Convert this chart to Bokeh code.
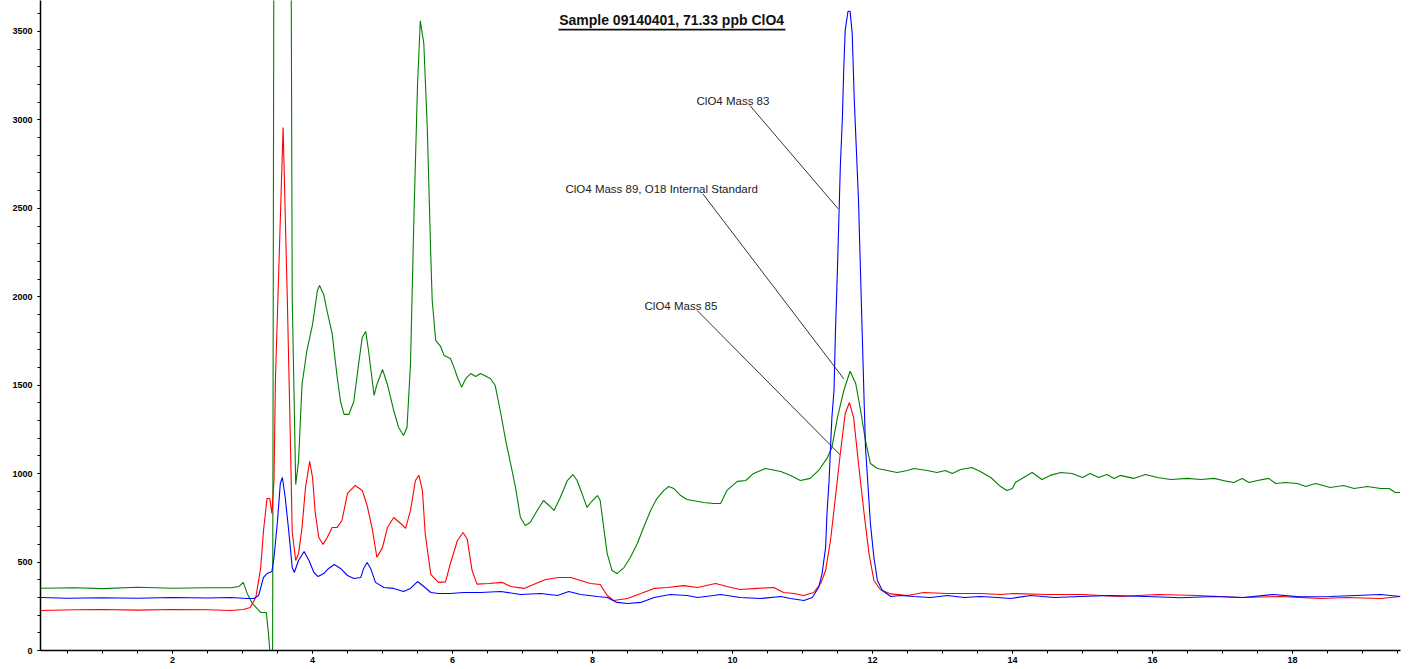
from bokeh.plotting import figure
from bokeh.models import ColumnDataSource, Label, BoxAnnotation, SingleIntervalTicker, Range1d
from bokeh.embed import file_html
from bokeh.resources import INLINE

# ---- data (retention time in min, intensity) ----
mass89_t = [0.12, 0.6, 1.0, 1.5, 2.0, 2.5, 2.83, 2.95, 3.01, 3.07, 3.14, 3.26, 3.34, 3.37, 3.39, 3.43,
            3.45, 3.69, 3.71, 3.76, 3.80, 3.85, 3.92, 4.00, 4.07, 4.10, 4.16, 4.21, 4.28, 4.35, 4.40,
            4.45, 4.52, 4.59, 4.66, 4.71, 4.76, 4.80, 4.88, 4.92, 5.00, 5.07, 5.16, 5.23, 5.30, 5.35,
            5.40, 5.45, 5.50, 5.54, 5.59, 5.64, 5.69, 5.71, 5.76, 5.83, 5.88, 5.97, 6.02, 6.07, 6.13,
            6.19, 6.26, 6.33, 6.40, 6.54, 6.61, 6.69, 6.76, 6.83, 6.90, 6.97, 7.04, 7.11, 7.21, 7.30,
            7.38, 7.45, 7.54, 7.64, 7.72, 7.78, 7.85, 7.92, 8.00, 8.07, 8.11, 8.16, 8.21, 8.28, 8.35,
            8.45, 8.54, 8.64, 8.73, 8.83, 8.92, 9.02, 9.09, 9.16, 9.26, 9.35, 9.59, 9.73, 9.83, 9.92,
            10.07, 10.19, 10.30, 10.47, 10.69, 10.83, 10.97, 11.11, 11.23, 11.35, 11.42, 11.50, 11.59,
            11.68, 11.76, 11.83, 11.90, 11.97, 12.07, 12.21, 12.35, 12.50, 12.59, 12.78, 12.92, 13.04,
            13.14, 13.26, 13.42, 13.54, 13.69, 13.83, 13.92, 14.00, 14.04, 14.16, 14.28, 14.42, 14.54,
            14.69, 14.85, 15.00, 15.11, 15.23, 15.35, 15.45, 15.54, 15.73, 15.90, 16.07, 16.26, 16.50,
            16.69, 16.88, 17.07, 17.16, 17.28, 17.38, 17.50, 17.66, 17.76, 17.90, 18.07, 18.19, 18.33,
            18.54, 18.73, 18.88, 19.07, 19.26, 19.38, 19.47, 19.54]
mass89_v = [352, 355, 350, 358, 352, 355, 355, 362, 385, 320, 266, 215, 215, 100, 0, 0,
            4500, 4500, 2000, 938, 1069, 1504, 1696, 1843, 2035, 2064, 2013, 1916, 1793, 1554, 1408,
            1335, 1335, 1408, 1623, 1770, 1804, 1696, 1442, 1504, 1589, 1504, 1357, 1261, 1216, 1261,
            1623, 2471, 3194, 3560, 3432, 2951, 2228, 1979, 1753, 1719, 1668, 1651, 1602, 1545, 1489,
            1538, 1566, 1549, 1566, 1538, 1498, 1340, 1187, 1057, 922, 752, 707, 724, 792, 848,
            820, 792, 865, 961, 995, 961, 888, 809, 848, 876, 848, 695, 548, 452, 435,
            469, 526, 605, 695, 792, 859, 905, 927, 916, 876, 854, 837, 831, 831, 905,
            956, 961, 1001, 1029, 1012, 990, 961, 973, 1018, 1086, 1148, 1318, 1470,
            1579, 1510, 1357, 1187, 1057, 1029, 1018, 1006, 1018, 1029, 1018, 1006, 1018,
            1001, 1023, 1035, 1012, 978, 927, 905, 916, 950, 978, 1006, 967, 990,
            1006, 1001, 978, 1001, 978, 995, 973, 990, 973, 995, 978, 967, 973,
            967, 973, 956, 950, 973, 950, 961, 973, 944, 950, 944, 927, 944,
            922, 933, 916, 927, 916, 916, 893, 893]

mass83_t = [0.12, 0.5, 1.0, 1.5, 2.0, 2.5, 2.83, 3.07, 3.16, 3.23, 3.30, 3.35, 3.42, 3.45, 3.50, 3.54,
            3.57, 3.61, 3.66, 3.71, 3.74, 3.80, 3.88, 3.95, 4.02, 4.08, 4.16, 4.23, 4.31, 4.40, 4.50,
            4.59, 4.69, 4.73, 4.78, 4.83, 4.90, 5.02, 5.16, 5.30, 5.40, 5.50, 5.59, 5.69, 5.80, 5.97,
            6.16, 6.40, 6.69, 6.97, 7.26, 7.50, 7.66, 7.83, 8.07, 8.21, 8.35, 8.50, 8.69, 8.88, 9.11,
            9.35, 9.50, 9.73, 9.83, 10.11, 10.40, 10.69, 10.83, 11.02, 11.14, 11.23, 11.28, 11.33,
            11.35, 11.38, 11.40, 11.42, 11.45, 11.47, 11.50, 11.52, 11.54, 11.57, 11.59, 11.61, 11.65,
            11.68, 11.71, 11.74, 11.77, 11.80, 11.82, 11.84, 11.86, 11.88, 11.90, 11.94, 11.97, 12.02,
            12.07, 12.14, 12.26, 12.40, 12.59, 12.83, 13.07, 13.31, 13.54, 13.78, 13.97, 14.26, 14.60,
            14.97, 15.40, 15.92, 16.40, 16.88, 17.30, 17.73, 18.10, 18.54, 18.90, 19.26, 19.54]
mass83_v = [300, 295, 298, 295, 300, 297, 300, 294, 294, 311, 413, 435, 447, 526, 735, 944,
            978, 865, 678, 469, 441, 509, 560, 509, 441, 418, 435, 464, 486, 464, 424,
            407, 413, 464, 498, 464, 385, 356, 351, 334, 351, 390, 362, 328, 322, 322,
            328, 328, 334, 317, 322, 311, 334, 317, 305, 300, 272, 266, 272, 300, 317,
            311, 300, 311, 317, 300, 294, 305, 294, 283, 300, 356, 435, 583,
            775, 961, 1148, 1318, 1470, 1792, 2165, 2448, 2731, 3014, 3297, 3506, 3614,
            3614, 3488, 3109, 2827, 2544, 2261, 1979, 1696, 1414, 1148, 905, 718, 526,
            396, 339, 305, 311, 305, 300, 311, 300, 305, 300, 294, 311, 300,
            305, 311, 305, 298, 305, 300, 317, 303, 305, 311, 317, 305]

mass85_t = [0.12, 0.6, 1.0, 1.5, 2.0, 2.5, 2.83, 3.01, 3.11, 3.19, 3.26, 3.30, 3.35, 3.39, 3.42, 3.45,
            3.47, 3.58, 3.64, 3.68, 3.71, 3.76, 3.80, 3.85, 3.90, 3.96, 4.00, 4.04, 4.09, 4.15, 4.21,
            4.28, 4.35, 4.42, 4.50, 4.61, 4.71, 4.78, 4.85, 4.92, 5.00, 5.07, 5.16, 5.26, 5.33, 5.40,
            5.47, 5.52, 5.57, 5.61, 5.69, 5.80, 5.90, 5.97, 6.07, 6.15, 6.21, 6.28, 6.35, 6.52, 6.71,
            6.83, 7.02, 7.19, 7.33, 7.52, 7.69, 7.83, 7.97, 8.11, 8.21, 8.30, 8.50, 8.69, 8.88, 9.07,
            9.30, 9.50, 9.69, 9.76, 9.92, 10.11, 10.35, 10.59, 10.73, 10.88, 11.02, 11.16, 11.26, 11.33,
            11.40, 11.47, 11.54, 11.61, 11.67, 11.73, 11.80, 11.88, 11.95, 12.02, 12.11, 12.26, 12.50,
            12.73, 13.07, 13.54, 13.83, 14.02, 14.50, 15.00, 15.54, 16.07, 16.64, 17.26, 17.83, 18.40,
            18.78, 19.26, 19.54]
mass85_v = [226, 230, 232, 228, 232, 230, 226, 232, 243, 300, 469, 678, 859, 859, 775, 961,
            1527, 2957, 1986, 1262, 670, 509, 548, 695, 922, 1069, 978, 775, 639, 599, 639,
            695, 695, 735, 888, 933, 905, 820, 695, 526, 583, 695, 752, 718, 690, 792,
            961, 990, 905, 660, 430, 385, 388, 492, 622, 667, 630, 452, 375, 379, 385,
            362, 351, 379, 401, 413, 413, 396, 379, 373, 311, 283, 294, 322, 351, 356,
            367, 356, 373, 379, 362, 345, 351, 356, 328, 322, 311, 328, 379, 452,
            622, 865, 1114, 1340, 1402, 1318, 1057, 775, 548, 396, 345, 320, 311,
            328, 322, 322, 317, 322, 317, 317, 305, 317, 311, 300, 305, 294,
            300, 294, 305]

# annotations: label text, label anchor (t, v), leader start, leader end
ann_text = ["ClO4 Mass 83", "ClO4 Mass 89, O18 Internal Standard", "ClO4 Mass 85"]
ann_t = [9.486, 7.614, 8.743]
ann_v = [3106, 2611, 1945]
lead_t0 = [10.247, 9.576, 9.496]
lead_v0 = [3082, 2582, 1922]
lead_t1 = [11.51, 11.59, 11.533]
lead_v1 = [2497, 1536, 1108]

title_text = "Sample 09140401, 71.33 ppb ClO4"

p = figure(width=1409, height=669, output_backend="svg", toolbar_location=None,
           x_range=Range1d(0.114, 19.543), y_range=Range1d(0, 3675),
           min_border_left=40, min_border_right=9, min_border_top=0, min_border_bottom=19)
p.outline_line_color = None
p.xgrid.visible = False
p.ygrid.visible = False
p.background_fill_color = "white"

p.line(mass89_t, mass89_v, line_color="#008000", line_width=1.1)
p.line(mass85_t, mass85_v, line_color="#ff0000", line_width=1.1)
p.line(mass83_t, mass83_v, line_color="#0000ff", line_width=1.1)

src = ColumnDataSource(dict(x0=lead_t0, y0=lead_v0, x1=lead_t1, y1=lead_v1))
p.segment("x0", "y0", "x1", "y1", source=src, line_color="#333333", line_width=1)

for txt, tx, ty in zip(ann_text, ann_t, ann_v):
    p.add_layout(Label(x=tx, y=ty, text=txt, text_font="Liberation Sans", text_font_size="11.5px",
                       text_color="#222222", text_baseline="middle", text_align="left"))

p.add_layout(Label(x=9.13, y=3562, text=title_text, text_font="Liberation Sans",
                   text_font_size="14px", text_font_style="bold", text_color="#111111",
                   text_align="center", text_baseline="middle"))
p.add_layout(BoxAnnotation(left=7.514, right=10.757, bottom=3506, top=3515,
                           fill_color="#111111", fill_alpha=1, line_alpha=0))

for ax in (p.xaxis[0], p.yaxis[0]):
    ax.axis_line_color = "black"
    ax.axis_line_width = 1.5
    ax.major_tick_line_color = "black"
    ax.minor_tick_line_color = "black"
    ax.major_tick_in = 0
    ax.minor_tick_in = 0
    ax.major_tick_out = 3
    ax.minor_tick_out = 3
    ax.major_label_text_font = "Liberation Sans"
    ax.major_label_text_font_size = "9px"
    ax.major_label_text_font_style = "bold"
    ax.major_label_text_color = "black"

p.xaxis[0].ticker = SingleIntervalTicker(interval=2, num_minor_ticks=4)
p.yaxis[0].ticker = SingleIntervalTicker(interval=500, num_minor_ticks=5)
p.xaxis[0].major_label_standoff = 3
p.yaxis[0].major_label_standoff = 5

open("out.html", "w").write(file_html(p, INLINE))
